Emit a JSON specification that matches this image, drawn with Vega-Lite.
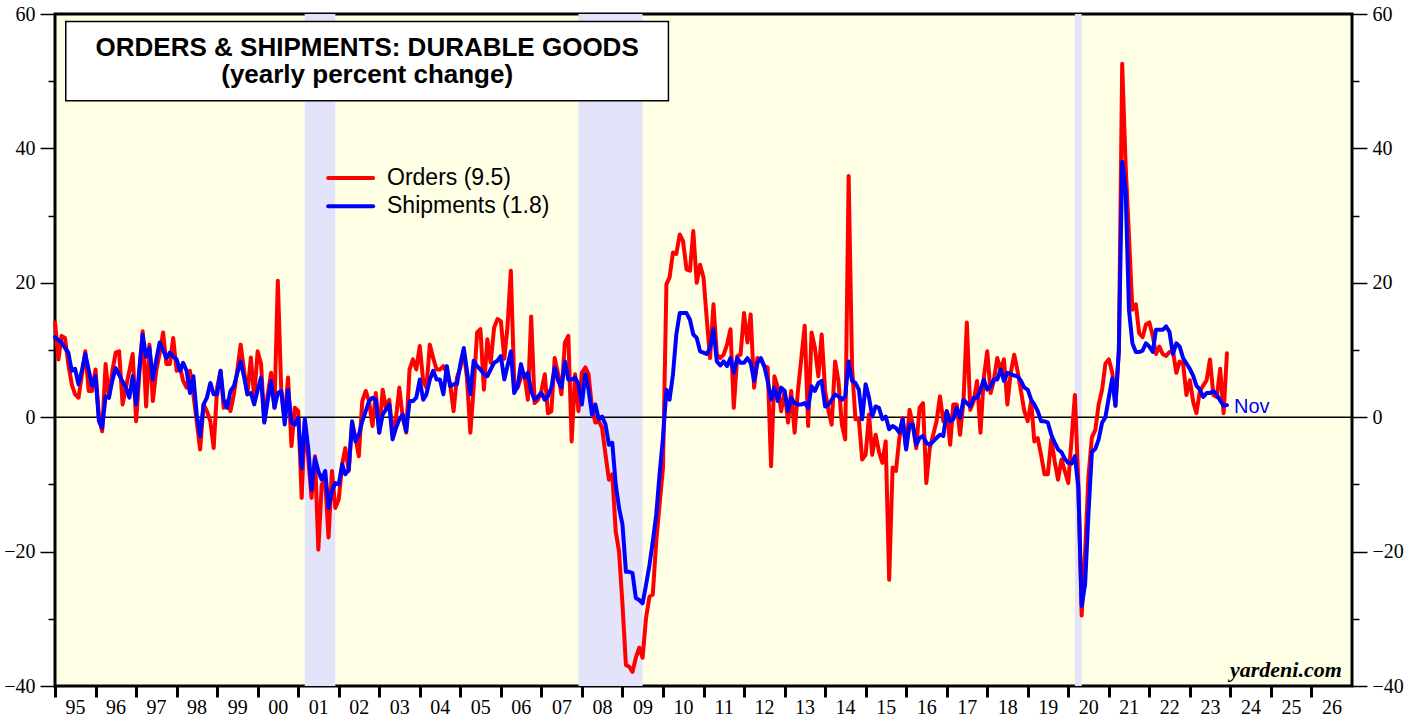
{
  "$schema": "https://vega.github.io/schema/vega-lite/v6.json",
  "width": 1297,
  "height": 672,
  "autosize": {"type": "none"},
  "padding": {"left": 55, "top": 14, "right": 67, "bottom": 33},
  "background": "white",
  "config": {
    "view": {"fill": "#FFFFE5", "stroke": "#000000", "strokeWidth": 3},
    "axis": {"labelFont": "Liberation Serif", "labelFontSize": 20, "labelColor": "#000000", "tickColor": "#000000", "domain": false, "grid": false, "title": null}
  },
  "resolve": {"axis": {"y": "independent"}},
  "datasets": {
    "orders": [
      {"d":"1995-01","v":14.1},{"d":"1995-02","v":8.6},{"d":"1995-03","v":12.1},{"d":"1995-04","v":11.8},{"d":"1995-05","v":7.9},{"d":"1995-06","v":4.9},{"d":"1995-07","v":3.4},{"d":"1995-08","v":2.9},{"d":"1995-09","v":6.4},{"d":"1995-10","v":9.8},{"d":"1995-11","v":3.9},{"d":"1995-12","v":3.9},
      {"d":"1996-01","v":7.1},{"d":"1996-02","v":-0.1},{"d":"1996-03","v":-2.1},{"d":"1996-04","v":7.9},{"d":"1996-05","v":2.9},{"d":"1996-06","v":6.9},{"d":"1996-07","v":9.6},{"d":"1996-08","v":9.8},{"d":"1996-09","v":1.9},{"d":"1996-10","v":4.4},{"d":"1996-11","v":6.9},{"d":"1996-12","v":9.4},
      {"d":"1997-01","v":-0.6},{"d":"1997-02","v":6.9},{"d":"1997-03","v":12.8},{"d":"1997-04","v":1.6},{"d":"1997-05","v":10.8},{"d":"1997-06","v":2.4},{"d":"1997-07","v":6.9},{"d":"1997-08","v":9.5},{"d":"1997-09","v":12.6},{"d":"1997-10","v":7.9},{"d":"1997-11","v":7.9},{"d":"1997-12","v":11.8},
      {"d":"1998-01","v":6.9},{"d":"1998-02","v":7.4},{"d":"1998-03","v":5.4},{"d":"1998-04","v":4.4},{"d":"1998-05","v":6.9},{"d":"1998-06","v":3.4},{"d":"1998-07","v":-0.6},{"d":"1998-08","v":-4.8},{"d":"1998-09","v":1.9},{"d":"1998-10","v":0.9},{"d":"1998-11","v":-0.6},{"d":"1998-12","v":-4.6},
      {"d":"1999-01","v":4.4},{"d":"1999-02","v":6.9},{"d":"1999-03","v":1.4},{"d":"1999-04","v":2.4},{"d":"1999-05","v":0.9},{"d":"1999-06","v":3.4},{"d":"1999-07","v":6.9},{"d":"1999-08","v":10.8},{"d":"1999-09","v":6.9},{"d":"1999-10","v":3.4},{"d":"1999-11","v":8.9},{"d":"1999-12","v":2.9},
      {"d":"2000-01","v":9.8},{"d":"2000-02","v":7.9},{"d":"2000-03","v":-0.6},{"d":"2000-04","v":3.4},{"d":"2000-05","v":6.6},{"d":"2000-06","v":1.4},{"d":"2000-07","v":20.3},{"d":"2000-08","v":3.9},{"d":"2000-09","v":-0.1},{"d":"2000-10","v":5.9},{"d":"2000-11","v":-4.3},{"d":"2000-12","v":1.4},
      {"d":"2001-01","v":0.9},{"d":"2001-02","v":-12.0},{"d":"2001-03","v":-0.6},{"d":"2001-04","v":-6.0},{"d":"2001-05","v":-12.0},{"d":"2001-06","v":-5.8},{"d":"2001-07","v":-19.7},{"d":"2001-08","v":-10.0},{"d":"2001-09","v":-9.5},{"d":"2001-10","v":-17.9},{"d":"2001-11","v":-8.0},{"d":"2001-12","v":-13.5},
      {"d":"2002-01","v":-12.2},{"d":"2002-02","v":-7.0},{"d":"2002-03","v":-4.6},{"d":"2002-04","v":-8.0},{"d":"2002-05","v":-0.8},{"d":"2002-06","v":-3.1},{"d":"2002-07","v":-5.8},{"d":"2002-08","v":2.4},{"d":"2002-09","v":3.9},{"d":"2002-10","v":2.4},{"d":"2002-11","v":-1.3},{"d":"2002-12","v":3.6},
      {"d":"2003-01","v":-2.3},{"d":"2003-02","v":4.1},{"d":"2003-03","v":1.4},{"d":"2003-04","v":2.6},{"d":"2003-05","v":-2.3},{"d":"2003-06","v":-0.1},{"d":"2003-07","v":4.4},{"d":"2003-08","v":-0.1},{"d":"2003-09","v":-2.3},{"d":"2003-10","v":7.1},{"d":"2003-11","v":8.6},{"d":"2003-12","v":7.1},
      {"d":"2004-01","v":10.6},{"d":"2004-02","v":5.4},{"d":"2004-03","v":4.4},{"d":"2004-04","v":10.8},{"d":"2004-05","v":8.8},{"d":"2004-06","v":7.1},{"d":"2004-07","v":7.1},{"d":"2004-08","v":7.6},{"d":"2004-09","v":6.6},{"d":"2004-10","v":4.9},{"d":"2004-11","v":0.9},{"d":"2004-12","v":5.9},
      {"d":"2005-01","v":7.4},{"d":"2005-02","v":9.8},{"d":"2005-03","v":5.9},{"d":"2005-04","v":-2.3},{"d":"2005-05","v":4.4},{"d":"2005-06","v":12.6},{"d":"2005-07","v":13.1},{"d":"2005-08","v":4.1},{"d":"2005-09","v":11.6},{"d":"2005-10","v":8.1},{"d":"2005-11","v":13.3},{"d":"2005-12","v":14.6},
      {"d":"2006-01","v":14.3},{"d":"2006-02","v":8.7},{"d":"2006-03","v":13.3},{"d":"2006-04","v":21.8},{"d":"2006-05","v":5.4},{"d":"2006-06","v":4.4},{"d":"2006-07","v":5.9},{"d":"2006-08","v":6.4},{"d":"2006-09","v":2.6},{"d":"2006-10","v":15.0},{"d":"2006-11","v":2.1},{"d":"2006-12","v":2.6},
      {"d":"2007-01","v":3.9},{"d":"2007-02","v":6.4},{"d":"2007-03","v":0.6},{"d":"2007-04","v":0.9},{"d":"2007-05","v":8.8},{"d":"2007-06","v":6.4},{"d":"2007-07","v":3.4},{"d":"2007-08","v":11.1},{"d":"2007-09","v":12.1},{"d":"2007-10","v":-3.6},{"d":"2007-11","v":6.4},{"d":"2007-12","v":0.9},
      {"d":"2008-01","v":6.6},{"d":"2008-02","v":7.4},{"d":"2008-03","v":6.4},{"d":"2008-04","v":1.4},{"d":"2008-05","v":-0.8},{"d":"2008-06","v":-0.6},{"d":"2008-07","v":-1.6},{"d":"2008-08","v":-5.6},{"d":"2008-09","v":-9.3},{"d":"2008-10","v":-8.5},{"d":"2008-11","v":-17.0},{"d":"2008-12","v":-20.0},
      {"d":"2009-01","v":-27.9},{"d":"2009-02","v":-36.9},{"d":"2009-03","v":-37.1},{"d":"2009-04","v":-37.9},{"d":"2009-05","v":-35.8},{"d":"2009-06","v":-34.3},{"d":"2009-07","v":-35.8},{"d":"2009-08","v":-29.9},{"d":"2009-09","v":-26.7},{"d":"2009-10","v":-26.4},{"d":"2009-11","v":-18.5},{"d":"2009-12","v":-13.0},
      {"d":"2010-01","v":-7.5},{"d":"2010-02","v":19.8},{"d":"2010-03","v":20.8},{"d":"2010-04","v":24.5},{"d":"2010-05","v":24.3},{"d":"2010-06","v":27.2},{"d":"2010-07","v":26.2},{"d":"2010-08","v":22.0},{"d":"2010-09","v":21.8},{"d":"2010-10","v":27.7},{"d":"2010-11","v":20.0},{"d":"2010-12","v":22.7},
      {"d":"2011-01","v":20.8},{"d":"2011-02","v":14.3},{"d":"2011-03","v":8.8},{"d":"2011-04","v":16.8},{"d":"2011-05","v":9.3},{"d":"2011-06","v":8.8},{"d":"2011-07","v":9.3},{"d":"2011-08","v":10.8},{"d":"2011-09","v":13.1},{"d":"2011-10","v":1.4},{"d":"2011-11","v":9.1},{"d":"2011-12","v":9.3},
      {"d":"2012-01","v":15.5},{"d":"2012-02","v":11.1},{"d":"2012-03","v":15.3},{"d":"2012-04","v":4.4},{"d":"2012-05","v":8.8},{"d":"2012-06","v":8.6},{"d":"2012-07","v":7.6},{"d":"2012-08","v":7.4},{"d":"2012-09","v":-7.3},{"d":"2012-10","v":6.1},{"d":"2012-11","v":4.4},{"d":"2012-12","v":0.9},
      {"d":"2013-01","v":3.9},{"d":"2013-02","v":-0.8},{"d":"2013-03","v":3.9},{"d":"2013-04","v":-2.3},{"d":"2013-05","v":3.9},{"d":"2013-06","v":8.8},{"d":"2013-07","v":13.6},{"d":"2013-08","v":-1.3},{"d":"2013-09","v":12.6},{"d":"2013-10","v":10.3},{"d":"2013-11","v":6.1},{"d":"2013-12","v":12.3},
      {"d":"2014-01","v":3.9},{"d":"2014-02","v":0.9},{"d":"2014-03","v":-1.1},{"d":"2014-04","v":8.3},{"d":"2014-05","v":5.4},{"d":"2014-06","v":-1.1},{"d":"2014-07","v":-3.3},{"d":"2014-08","v":35.9},{"d":"2014-09","v":7.4},{"d":"2014-10","v":-0.3},{"d":"2014-11","v":-0.3},{"d":"2014-12","v":-6.3},
      {"d":"2015-01","v":-5.6},{"d":"2015-02","v":0.4},{"d":"2015-03","v":-5.6},{"d":"2015-04","v":-2.6},{"d":"2015-05","v":-5.1},{"d":"2015-06","v":-6.8},{"d":"2015-07","v":-3.6},{"d":"2015-08","v":-24.2},{"d":"2015-09","v":-7.5},{"d":"2015-10","v":-8.0},{"d":"2015-11","v":-3.1},{"d":"2015-12","v":-0.1},
      {"d":"2016-01","v":-4.6},{"d":"2016-02","v":1.1},{"d":"2016-03","v":-1.1},{"d":"2016-04","v":-4.6},{"d":"2016-05","v":1.4},{"d":"2016-06","v":2.1},{"d":"2016-07","v":-9.8},{"d":"2016-08","v":-4.6},{"d":"2016-09","v":-2.6},{"d":"2016-10","v":-0.6},{"d":"2016-11","v":3.1},{"d":"2016-12","v":-0.6},
      {"d":"2017-01","v":0.9},{"d":"2017-02","v":-4.1},{"d":"2017-03","v":1.9},{"d":"2017-04","v":1.9},{"d":"2017-05","v":-2.6},{"d":"2017-06","v":2.4},{"d":"2017-07","v":14.1},{"d":"2017-08","v":1.1},{"d":"2017-09","v":2.4},{"d":"2017-10","v":5.4},{"d":"2017-11","v":-2.3},{"d":"2017-12","v":5.9},
      {"d":"2018-01","v":9.8},{"d":"2018-02","v":3.6},{"d":"2018-03","v":5.4},{"d":"2018-04","v":8.8},{"d":"2018-05","v":7.1},{"d":"2018-06","v":8.6},{"d":"2018-07","v":1.9},{"d":"2018-08","v":6.6},{"d":"2018-09","v":9.3},{"d":"2018-10","v":6.9},{"d":"2018-11","v":3.9},{"d":"2018-12","v":0.9},
      {"d":"2019-01","v":-0.6},{"d":"2019-02","v":2.4},{"d":"2019-03","v":-3.6},{"d":"2019-04","v":-3.1},{"d":"2019-05","v":-5.6},{"d":"2019-06","v":-8.5},{"d":"2019-07","v":-8.5},{"d":"2019-08","v":-3.3},{"d":"2019-09","v":-6.6},{"d":"2019-10","v":-9.3},{"d":"2019-11","v":-6.3},{"d":"2019-12","v":-8.0},
      {"d":"2020-01","v":-9.8},{"d":"2020-02","v":-3.0},{"d":"2020-03","v":3.3},{"d":"2020-04","v":-10.0},{"d":"2020-05","v":-29.5},{"d":"2020-06","v":-20.0},{"d":"2020-07","v":-8.8},{"d":"2020-08","v":-3.0},{"d":"2020-09","v":-1.9},{"d":"2020-10","v":1.9},{"d":"2020-11","v":4.1},{"d":"2020-12","v":8.0},
      {"d":"2021-01","v":8.6},{"d":"2021-02","v":6.6},{"d":"2021-03","v":1.7},{"d":"2021-04","v":9.9},{"d":"2021-05","v":52.6},{"d":"2021-06","v":37.5},{"d":"2021-07","v":27.0},{"d":"2021-08","v":16.0},{"d":"2021-09","v":16.8},{"d":"2021-10","v":12.5},{"d":"2021-11","v":11.9},{"d":"2021-12","v":13.8},
      {"d":"2022-01","v":14.1},{"d":"2022-02","v":12.1},{"d":"2022-03","v":9.4},{"d":"2022-04","v":10.5},{"d":"2022-05","v":9.4},{"d":"2022-06","v":9.1},{"d":"2022-07","v":9.7},{"d":"2022-08","v":9.9},{"d":"2022-09","v":6.6},{"d":"2022-10","v":8.3},{"d":"2022-11","v":8.0},{"d":"2022-12","v":3.3},
      {"d":"2023-01","v":5.5},{"d":"2023-02","v":2.2},{"d":"2023-03","v":0.6},{"d":"2023-04","v":3.9},{"d":"2023-05","v":4.7},{"d":"2023-06","v":5.5},{"d":"2023-07","v":8.6},{"d":"2023-08","v":3.3},{"d":"2023-09","v":3.0},{"d":"2023-10","v":7.2},{"d":"2023-11","v":0.6},{"d":"2023-12","v":9.5}
    ],
    "shipments": [
      {"d":"1995-01","v":11.9},{"d":"1995-02","v":11.5},{"d":"1995-03","v":11.1},{"d":"1995-04","v":10.3},{"d":"1995-05","v":9.6},{"d":"1995-06","v":6.9},{"d":"1995-07","v":7.2},{"d":"1995-08","v":4.9},{"d":"1995-09","v":7.0},{"d":"1995-10","v":9.4},{"d":"1995-11","v":7.0},{"d":"1995-12","v":4.7},
      {"d":"1996-01","v":6.1},{"d":"1996-02","v":-0.6},{"d":"1996-03","v":-1.6},{"d":"1996-04","v":3.1},{"d":"1996-05","v":2.9},{"d":"1996-06","v":5.5},{"d":"1996-07","v":7.3},{"d":"1996-08","v":6.3},{"d":"1996-09","v":5.3},{"d":"1996-10","v":4.4},{"d":"1996-11","v":2.9},{"d":"1996-12","v":6.1},
      {"d":"1997-01","v":1.9},{"d":"1997-02","v":7.5},{"d":"1997-03","v":12.3},{"d":"1997-04","v":9.0},{"d":"1997-05","v":10.3},{"d":"1997-06","v":5.6},{"d":"1997-07","v":8.5},{"d":"1997-08","v":11.1},{"d":"1997-09","v":10.0},{"d":"1997-10","v":8.8},{"d":"1997-11","v":9.6},{"d":"1997-12","v":9.0},
      {"d":"1998-01","v":8.6},{"d":"1998-02","v":6.9},{"d":"1998-03","v":8.1},{"d":"1998-04","v":6.9},{"d":"1998-05","v":3.6},{"d":"1998-06","v":6.1},{"d":"1998-07","v":0.4},{"d":"1998-08","v":-2.8},{"d":"1998-09","v":1.9},{"d":"1998-10","v":2.9},{"d":"1998-11","v":5.1},{"d":"1998-12","v":3.4},
      {"d":"1999-01","v":3.4},{"d":"1999-02","v":6.9},{"d":"1999-03","v":2.5},{"d":"1999-04","v":1.4},{"d":"1999-05","v":3.9},{"d":"1999-06","v":4.6},{"d":"1999-07","v":6.5},{"d":"1999-08","v":8.3},{"d":"1999-09","v":6.0},{"d":"1999-10","v":3.4},{"d":"1999-11","v":3.6},{"d":"1999-12","v":1.9},
      {"d":"2000-01","v":4.0},{"d":"2000-02","v":5.9},{"d":"2000-03","v":-0.8},{"d":"2000-04","v":2.5},{"d":"2000-05","v":5.4},{"d":"2000-06","v":1.4},{"d":"2000-07","v":3.6},{"d":"2000-08","v":3.9},{"d":"2000-09","v":-1.1},{"d":"2000-10","v":4.1},{"d":"2000-11","v":-0.8},{"d":"2000-12","v":-1.1},
      {"d":"2001-01","v":-0.1},{"d":"2001-02","v":-7.6},{"d":"2001-03","v":-0.3},{"d":"2001-04","v":-4.6},{"d":"2001-05","v":-10.8},{"d":"2001-06","v":-6.1},{"d":"2001-07","v":-8.0},{"d":"2001-08","v":-9.3},{"d":"2001-09","v":-8.0},{"d":"2001-10","v":-13.5},{"d":"2001-11","v":-11.0},{"d":"2001-12","v":-9.8},
      {"d":"2002-01","v":-10.0},{"d":"2002-02","v":-7.0},{"d":"2002-03","v":-8.5},{"d":"2002-04","v":-7.8},{"d":"2002-05","v":-0.6},{"d":"2002-06","v":-3.6},{"d":"2002-07","v":-2.6},{"d":"2002-08","v":-0.6},{"d":"2002-09","v":0.9},{"d":"2002-10","v":2.4},{"d":"2002-11","v":2.9},{"d":"2002-12","v":2.6},
      {"d":"2003-01","v":-2.3},{"d":"2003-02","v":0.4},{"d":"2003-03","v":1.1},{"d":"2003-04","v":1.9},{"d":"2003-05","v":-3.3},{"d":"2003-06","v":-1.6},{"d":"2003-07","v":-0.3},{"d":"2003-08","v":0.4},{"d":"2003-09","v":-2.1},{"d":"2003-10","v":2.4},{"d":"2003-11","v":2.4},{"d":"2003-12","v":2.9},
      {"d":"2004-01","v":5.6},{"d":"2004-02","v":2.6},{"d":"2004-03","v":3.4},{"d":"2004-04","v":5.6},{"d":"2004-05","v":6.9},{"d":"2004-06","v":5.6},{"d":"2004-07","v":5.6},{"d":"2004-08","v":3.4},{"d":"2004-09","v":7.6},{"d":"2004-10","v":4.6},{"d":"2004-11","v":4.9},{"d":"2004-12","v":4.9},
      {"d":"2005-01","v":7.9},{"d":"2005-02","v":10.3},{"d":"2005-03","v":6.9},{"d":"2005-04","v":3.4},{"d":"2005-05","v":8.4},{"d":"2005-06","v":7.6},{"d":"2005-07","v":7.1},{"d":"2005-08","v":6.4},{"d":"2005-09","v":6.1},{"d":"2005-10","v":7.1},{"d":"2005-11","v":8.1},{"d":"2005-12","v":8.4},
      {"d":"2006-01","v":9.1},{"d":"2006-02","v":5.6},{"d":"2006-03","v":7.6},{"d":"2006-04","v":9.8},{"d":"2006-05","v":3.6},{"d":"2006-06","v":4.6},{"d":"2006-07","v":7.9},{"d":"2006-08","v":5.9},{"d":"2006-09","v":6.6},{"d":"2006-10","v":3.9},{"d":"2006-11","v":2.6},{"d":"2006-12","v":3.1},
      {"d":"2007-01","v":3.6},{"d":"2007-02","v":2.6},{"d":"2007-03","v":3.1},{"d":"2007-04","v":4.4},{"d":"2007-05","v":7.4},{"d":"2007-06","v":5.4},{"d":"2007-07","v":4.4},{"d":"2007-08","v":8.3},{"d":"2007-09","v":5.6},{"d":"2007-10","v":5.6},{"d":"2007-11","v":5.9},{"d":"2007-12","v":4.9},
      {"d":"2008-01","v":1.9},{"d":"2008-02","v":6.4},{"d":"2008-03","v":4.1},{"d":"2008-04","v":0.4},{"d":"2008-05","v":1.9},{"d":"2008-06","v":-0.3},{"d":"2008-07","v":0.1},{"d":"2008-08","v":-1.1},{"d":"2008-09","v":-4.1},{"d":"2008-10","v":-3.8},{"d":"2008-11","v":-10.0},{"d":"2008-12","v":-13.5},
      {"d":"2009-01","v":-16.0},{"d":"2009-02","v":-23.0},{"d":"2009-03","v":-23.0},{"d":"2009-04","v":-23.2},{"d":"2009-05","v":-26.9},{"d":"2009-06","v":-27.2},{"d":"2009-07","v":-27.7},{"d":"2009-08","v":-25.0},{"d":"2009-09","v":-22.0},{"d":"2009-10","v":-18.5},{"d":"2009-11","v":-14.5},{"d":"2009-12","v":-8.5},
      {"d":"2010-01","v":-3.1},{"d":"2010-02","v":4.1},{"d":"2010-03","v":2.6},{"d":"2010-04","v":6.4},{"d":"2010-05","v":12.3},{"d":"2010-06","v":15.5},{"d":"2010-07","v":15.5},{"d":"2010-08","v":15.5},{"d":"2010-09","v":14.5},{"d":"2010-10","v":12.3},{"d":"2010-11","v":11.8},{"d":"2010-12","v":9.8},
      {"d":"2011-01","v":9.6},{"d":"2011-02","v":9.4},{"d":"2011-03","v":10.3},{"d":"2011-04","v":13.1},{"d":"2011-05","v":8.3},{"d":"2011-06","v":7.7},{"d":"2011-07","v":8.3},{"d":"2011-08","v":7.6},{"d":"2011-09","v":8.8},{"d":"2011-10","v":6.6},{"d":"2011-11","v":8.8},{"d":"2011-12","v":8.1},
      {"d":"2012-01","v":8.1},{"d":"2012-02","v":8.8},{"d":"2012-03","v":8.1},{"d":"2012-04","v":5.4},{"d":"2012-05","v":8.1},{"d":"2012-06","v":8.8},{"d":"2012-07","v":7.6},{"d":"2012-08","v":5.4},{"d":"2012-09","v":2.6},{"d":"2012-10","v":4.4},{"d":"2012-11","v":2.4},{"d":"2012-12","v":4.4},
      {"d":"2013-01","v":3.9},{"d":"2013-02","v":0.9},{"d":"2013-03","v":2.9},{"d":"2013-04","v":2.1},{"d":"2013-05","v":1.9},{"d":"2013-06","v":1.9},{"d":"2013-07","v":2.1},{"d":"2013-08","v":1.4},{"d":"2013-09","v":4.6},{"d":"2013-10","v":3.9},{"d":"2013-11","v":5.1},{"d":"2013-12","v":5.4},
      {"d":"2014-01","v":1.6},{"d":"2014-02","v":1.9},{"d":"2014-03","v":2.6},{"d":"2014-04","v":3.4},{"d":"2014-05","v":3.1},{"d":"2014-06","v":2.6},{"d":"2014-07","v":3.1},{"d":"2014-08","v":8.3},{"d":"2014-09","v":5.4},{"d":"2014-10","v":5.1},{"d":"2014-11","v":4.1},{"d":"2014-12","v":-0.3},
      {"d":"2015-01","v":4.9},{"d":"2015-02","v":2.9},{"d":"2015-03","v":0.1},{"d":"2015-04","v":1.6},{"d":"2015-05","v":1.4},{"d":"2015-06","v":-0.3},{"d":"2015-07","v":0.1},{"d":"2015-08","v":-1.8},{"d":"2015-09","v":-1.3},{"d":"2015-10","v":-1.6},{"d":"2015-11","v":-2.3},{"d":"2015-12","v":-0.3},
      {"d":"2016-01","v":-4.8},{"d":"2016-02","v":-1.1},{"d":"2016-03","v":-1.1},{"d":"2016-04","v":-4.1},{"d":"2016-05","v":-3.1},{"d":"2016-06","v":-2.8},{"d":"2016-07","v":-3.8},{"d":"2016-08","v":-4.1},{"d":"2016-09","v":-3.6},{"d":"2016-10","v":-3.1},{"d":"2016-11","v":-2.6},{"d":"2016-12","v":-2.8},
      {"d":"2017-01","v":0.9},{"d":"2017-02","v":-0.6},{"d":"2017-03","v":-0.3},{"d":"2017-04","v":1.4},{"d":"2017-05","v":-0.1},{"d":"2017-06","v":2.6},{"d":"2017-07","v":2.1},{"d":"2017-08","v":1.6},{"d":"2017-09","v":2.9},{"d":"2017-10","v":2.9},{"d":"2017-11","v":4.1},{"d":"2017-12","v":5.6},
      {"d":"2018-01","v":4.1},{"d":"2018-02","v":4.6},{"d":"2018-03","v":5.6},{"d":"2018-04","v":5.6},{"d":"2018-05","v":7.1},{"d":"2018-06","v":5.4},{"d":"2018-07","v":6.6},{"d":"2018-08","v":6.4},{"d":"2018-09","v":6.2},{"d":"2018-10","v":6.1},{"d":"2018-11","v":5.4},{"d":"2018-12","v":4.4},
      {"d":"2019-01","v":4.1},{"d":"2019-02","v":2.6},{"d":"2019-03","v":1.9},{"d":"2019-04","v":0.9},{"d":"2019-05","v":-0.6},{"d":"2019-06","v":-0.6},{"d":"2019-07","v":-0.8},{"d":"2019-08","v":-2.6},{"d":"2019-09","v":-3.8},{"d":"2019-10","v":-4.8},{"d":"2019-11","v":-5.2},{"d":"2019-12","v":-6.2},
      {"d":"2020-01","v":-6.8},{"d":"2020-02","v":-6.9},{"d":"2020-03","v":-5.8},{"d":"2020-04","v":-10.5},{"d":"2020-05","v":-28.1},{"d":"2020-06","v":-24.8},{"d":"2020-07","v":-14.3},{"d":"2020-08","v":-5.2},{"d":"2020-09","v":-4.7},{"d":"2020-10","v":-3.3},{"d":"2020-11","v":-0.8},{"d":"2020-12","v":0.0},
      {"d":"2021-01","v":3.0},{"d":"2021-02","v":5.8},{"d":"2021-03","v":1.7},{"d":"2021-04","v":9.9},{"d":"2021-05","v":38.0},{"d":"2021-06","v":33.7},{"d":"2021-07","v":16.0},{"d":"2021-08","v":11.0},{"d":"2021-09","v":9.7},{"d":"2021-10","v":9.7},{"d":"2021-11","v":9.9},{"d":"2021-12","v":11.0},
      {"d":"2022-01","v":10.5},{"d":"2022-02","v":9.7},{"d":"2022-03","v":13.0},{"d":"2022-04","v":13.0},{"d":"2022-05","v":13.0},{"d":"2022-06","v":13.5},{"d":"2022-07","v":12.7},{"d":"2022-08","v":9.4},{"d":"2022-09","v":11.0},{"d":"2022-10","v":10.5},{"d":"2022-11","v":8.8},{"d":"2022-12","v":8.0},
      {"d":"2023-01","v":7.2},{"d":"2023-02","v":6.1},{"d":"2023-03","v":4.7},{"d":"2023-04","v":4.1},{"d":"2023-05","v":3.0},{"d":"2023-06","v":3.6},{"d":"2023-07","v":3.6},{"d":"2023-08","v":3.9},{"d":"2023-09","v":3.3},{"d":"2023-10","v":2.5},{"d":"2023-11","v":1.7},{"d":"2023-12","v":1.8,"lab":"Nov"}
    ]
  },
  "layer": [
    {
      "data": {"values": [{"s":"2001-03","e":"2001-12"},{"s":"2007-12","e":"2009-07"},{"s":"2020-03","e":"2020-05"}]},
      "mark": {"type": "rect", "color": "#E3E3FA"},
      "encoding": {
        "x": {
          "field": "s", "type": "temporal", "title": null,
          "scale": {"type": "utc", "domain": [{"year":1995,"month":1,"date":1,"utc":true},{"year":2027,"month":1,"date":1,"utc":true}], "nice": false},
          "axis": {
            "orient": "bottom",
            "values": [{"year":1995,"utc":true},{"year":1996,"utc":true},{"year":1997,"utc":true},{"year":1998,"utc":true},{"year":1999,"utc":true},{"year":2000,"utc":true},{"year":2001,"utc":true},{"year":2002,"utc":true},{"year":2003,"utc":true},{"year":2004,"utc":true},{"year":2005,"utc":true},{"year":2006,"utc":true},{"year":2007,"utc":true},{"year":2008,"utc":true},{"year":2009,"utc":true},{"year":2010,"utc":true},{"year":2011,"utc":true},{"year":2012,"utc":true},{"year":2013,"utc":true},{"year":2014,"utc":true},{"year":2015,"utc":true},{"year":2016,"utc":true},{"year":2017,"utc":true},{"year":2018,"utc":true},{"year":2019,"utc":true},{"year":2020,"utc":true},{"year":2021,"utc":true},{"year":2022,"utc":true},{"year":2023,"utc":true},{"year":2024,"utc":true},{"year":2025,"utc":true},{"year":2026,"utc":true}],
            "labelExpr": "utcFormat(datum.value, '%y')",
            "labelOffset": 20, "labelAlign": "center", "labelBaseline": "top", "labelPadding": 0,
            "tickSize": 11, "tickWidth": 3, "labelFlush": false, "labelOverlap": false, "labelBound": false
          }
        },
        "x2": {"field": "e"}
      }
    },
    {
      "data": {"values": [{}]},
      "mark": {"type": "rule", "color": "#000000", "strokeWidth": 1.5},
      "encoding": {
        "y": {
          "datum": 0, "type": "quantitative",
          "scale": {"domain": [-40, 60], "nice": false, "zero": false},
          "axis": {
            "orient": "left", "title": null,
            "values": [-40,-30,-20,-10,0,10,20,30,40,50,60],
            "labelExpr": "datum.value % 20 == 0 ? datum.label : ''",
            "tickSize": {"condition": {"test": "datum.value % 20 == 0", "value": 15}, "value": 7},
            "tickWidth": 1.5, "labelPadding": 5, "labelFlush": false, "labelOverlap": false, "labelBound": false
          }
        }
      }
    },
    {
      "data": {"name": "orders"},
      "mark": {"type": "line", "color": "#FF0000", "strokeWidth": 4, "strokeJoin": "round", "strokeCap": "round"},
      "encoding": {
        "x": {"field": "d", "type": "temporal", "title": null},
        "y": {"field": "v", "type": "quantitative", "scale": {"domain": [-40, 60], "nice": false, "zero": false}, "axis": null}
      }
    },
    {
      "data": {"name": "shipments"},
      "mark": {"type": "line", "color": "#0000FF", "strokeWidth": 4, "strokeJoin": "round", "strokeCap": "round"},
      "encoding": {
        "x": {"field": "d", "type": "temporal", "title": null},
        "y": {
          "field": "v", "type": "quantitative", "title": null,
          "scale": {"domain": [-40, 60], "nice": false, "zero": false},
          "axis": {
            "orient": "right", "title": null,
            "values": [-40,-30,-20,-10,0,10,20,30,40,50,60],
            "labelExpr": "datum.value % 20 == 0 ? datum.label : ''",
            "tickSize": {"condition": {"test": "datum.value % 20 == 0", "value": 15}, "value": 7},
            "tickWidth": 1.5, "labelPadding": 5, "labelFlush": false, "labelOverlap": false, "labelBound": false
          }
        }
      }
    },
    {
      "data": {"name": "shipments"},
      "transform": [{"filter": "isValid(datum.lab)"}],
      "mark": {"type": "text", "align": "left", "baseline": "alphabetic", "dx": 7, "dy": 8, "font": "Liberation Sans", "fontSize": 20, "color": "#0000FF"},
      "encoding": {
        "x": {"field": "d", "type": "temporal", "title": null},
        "y": {"field": "v", "type": "quantitative", "scale": {"domain": [-40, 60], "nice": false, "zero": false}, "axis": null},
        "text": {"field": "lab"}
      }
    },
    {
      "data": {"values": [{}]},
      "mark": {"type": "rect", "fill": "#FFFFFF", "stroke": "#000000", "strokeWidth": 1.5},
      "encoding": {
        "x": {"datum": {"year":1995,"month":4,"date":8,"utc":true}, "type": "temporal", "title": null},
        "x2": {"datum": {"year":2010,"month":2,"date":19,"utc":true}},
        "y": {"datum": 58.9, "type": "quantitative", "scale": {"domain": [-40, 60], "nice": false, "zero": false}, "axis": null},
        "y2": {"datum": 47.1}
      }
    },
    {
      "data": {"values": [{}]},
      "mark": {"type": "text", "text": ["ORDERS & SHIPMENTS: DURABLE GOODS", "(yearly percent change)"], "lineHeight": 27, "align": "center", "baseline": "alphabetic", "font": "Liberation Sans", "fontWeight": "bold", "fontSize": 26, "color": "#000000"},
      "encoding": {
        "x": {"datum": {"year":2002,"month":9,"date":14,"utc":true}, "type": "temporal", "title": null},
        "y": {"datum": 53.8, "type": "quantitative", "scale": {"domain": [-40, 60], "nice": false, "zero": false}, "axis": null}
      }
    },
    {
      "data": {"values": [{}]},
      "mark": {"type": "rule", "color": "#FF0000", "strokeWidth": 4, "strokeCap": "round"},
      "encoding": {
        "x": {"datum": {"year":2001,"month":9,"date":28,"utc":true}, "type": "temporal", "title": null},
        "x2": {"datum": {"year":2002,"month":11,"date":7,"utc":true}},
        "y": {"datum": 35.6, "type": "quantitative", "scale": {"domain": [-40, 60], "nice": false, "zero": false}, "axis": null}
      }
    },
    {
      "data": {"values": [{}]},
      "mark": {"type": "rule", "color": "#0000FF", "strokeWidth": 4, "strokeCap": "round"},
      "encoding": {
        "x": {"datum": {"year":2001,"month":9,"date":28,"utc":true}, "type": "temporal", "title": null},
        "x2": {"datum": {"year":2002,"month":11,"date":7,"utc":true}},
        "y": {"datum": 31.4, "type": "quantitative", "scale": {"domain": [-40, 60], "nice": false, "zero": false}, "axis": null}
      }
    },
    {
      "data": {"values": [{}]},
      "mark": {"type": "text", "text": "Orders (9.5)", "align": "left", "baseline": "middle", "font": "Liberation Sans", "fontSize": 23, "color": "#000000"},
      "encoding": {
        "x": {"datum": {"year":2003,"month":3,"date":12,"utc":true}, "type": "temporal", "title": null},
        "y": {"datum": 35.6, "type": "quantitative", "scale": {"domain": [-40, 60], "nice": false, "zero": false}, "axis": null}
      }
    },
    {
      "data": {"values": [{}]},
      "mark": {"type": "text", "text": "Shipments (1.8)", "align": "left", "baseline": "middle", "font": "Liberation Sans", "fontSize": 23, "color": "#000000"},
      "encoding": {
        "x": {"datum": {"year":2003,"month":3,"date":12,"utc":true}, "type": "temporal", "title": null},
        "y": {"datum": 31.4, "type": "quantitative", "scale": {"domain": [-40, 60], "nice": false, "zero": false}, "axis": null}
      }
    },
    {
      "data": {"values": [{}]},
      "mark": {"type": "text", "text": "yardeni.com", "align": "right", "baseline": "alphabetic", "font": "Liberation Serif", "fontWeight": "bold", "fontStyle": "italic", "fontSize": 22, "color": "#000000"},
      "encoding": {
        "x": {"datum": {"year":2026,"month":10,"date":1,"utc":true}, "type": "temporal", "title": null},
        "y": {"datum": -38.6, "type": "quantitative", "scale": {"domain": [-40, 60], "nice": false, "zero": false}, "axis": null}
      }
    }
  ]
}
